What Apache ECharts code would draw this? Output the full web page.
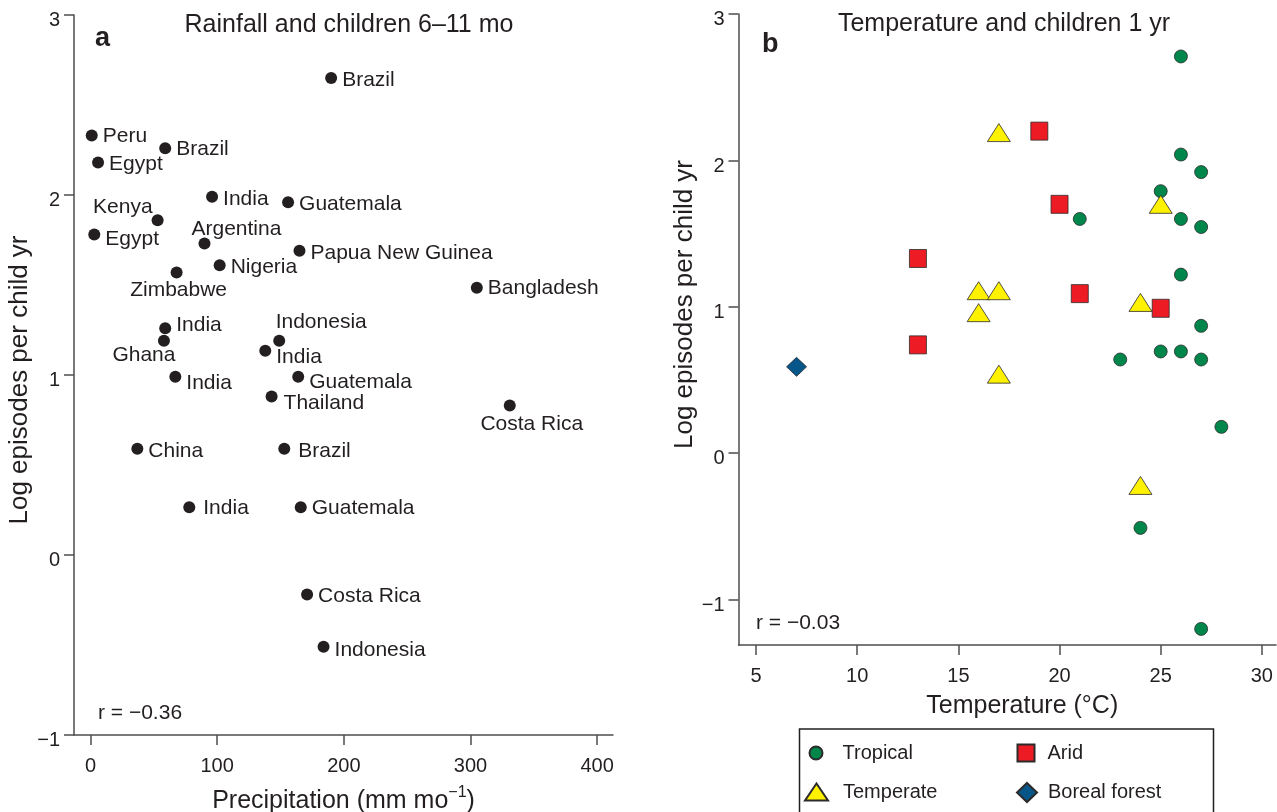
<!DOCTYPE html>
<html><head><meta charset="utf-8">
<script src="https://cdn.jsdelivr.net/npm/echarts@6/dist/echarts.min.js"></script>
<style>html,body{margin:0;padding:0;background:#fff}#c{width:1277px;height:812px}</style>
</head><body><div id="c"></div>
<script>
// ---------- Panel a: rainfall ----------
const rainCountries = ['Brazil','Peru','Brazil','Egypt','India','Guatemala','Kenya','Egypt','Argentina','Papua New Guinea','Nigeria','Zimbabwe','Bangladesh','India','Ghana','Indonesia','India','India','Guatemala','Thailand','Costa Rica','China','Brazil','India','Guatemala','Costa Rica','Indonesia'];
const rainPrecip = [190,1,59,6,96,156,53,3,90,165,102,68,305,59,58,149,138,67,164,143,331,37,153,78,166,171,184];
const rainEpisodes = [2.65,2.33,2.26,2.18,1.99,1.96,1.86,1.78,1.73,1.69,1.61,1.57,1.485,1.26,1.19,1.19,1.135,0.99,0.99,0.88,0.83,0.59,0.59,0.265,0.265,-0.22,-0.51];
const rainTicksX = [0,100,200,300,400];
const rainTicksY = [-1,0,1,2,3];

// ---------- Panel b: temperature ----------
const tropicalTemp = [26,26,27,25,21,26,27,26,27,25,26,23,27,28,24,27];
const tropicalEp = [2.71,2.04,1.92,1.79,1.60,1.60,1.545,1.22,0.87,0.695,0.695,0.64,0.64,0.18,-0.51,-1.20];
const temperateTemp = [17,25,16,17,16,24,17,24];
const temperateEp = [2.19,1.70,1.11,1.11,0.96,1.03,0.54,-0.22];
const aridTemp = [19,20,13,21,25,13];
const aridEp = [2.20,1.70,1.33,1.09,0.99,0.74];
const borealTemp = [7];
const borealEp = [0.59];
const tempTicksX = [5,10,15,20,25,30];
const tempTicksY = [-1,0,1,2,3];

// ---------- label placement (style only) ----------
const labelPlacement = {
  0:['right',5,0,2], 1:['right',5,0,1], 2:['right',5,0,1], 3:['right',5,0,2], 4:['right',5,0,2],
  5:['right',5,0,2], 6:['left',0,1,-13], 7:['right',5,0,5], 8:['right',5,-24,-14], 9:['right',5,0,2],
  10:['right',5,0,2], 11:['bottom',1,2,0], 12:['right',5,0,1], 13:['right',5,0,-3], 14:['bottom',-2,-20,0],
  15:['top',2,42,0], 16:['right',5,0,7], 17:['right',5,0,6], 18:['right',5,0,5], 19:['right',5,1,7],
  20:['bottom',2,22,0], 21:['right',5,0,2], 22:['right',5,3,2], 23:['right',5,3,1], 24:['right',5,0,1],
  25:['right',5,0,2], 26:['right',5,0,3]
};

const TXT = '#231f20';
const AX = '#4d4d4f';
const FONT = '"Liberation Sans", Arial, Helvetica, sans-serif';
const minus = v => String(v).replace('-', '\u2212');

const rainData = rainPrecip.map((x, i) => {
  const p = labelPlacement[i];
  return {
    name: rainCountries[i],
    value: [x, rainEpisodes[i]],
    label: { position: p[0], distance: p[1], offset: [p[2], p[3]] }
  };
});
const pairs = (xs, ys) => xs.map((x, i) => [x, ys[i]]);

function axisCommon(ticks, tickLen, labelOpts) {
  return {
    type: 'value',
    splitLine: { show: false },
    axisLine: { show: true, onZero: false, lineStyle: { color: AX, width: 1.5 } },
    axisTick: { show: true, customValues: ticks, length: tickLen, lineStyle: { color: AX, width: 1.5 } },
    axisLabel: Object.assign({ customValues: ticks, fontSize: 20, color: TXT, fontFamily: FONT, formatter: minus }, labelOpts),
    nameLocation: 'middle'
  };
}
// y tick labels sit a little below their ticks in the reference
const yLabelOpts = {
  margin: 14,
  formatter: v => '{s| }\n{t|' + minus(v) + '}',
  rich: {
    s: { fontSize: 8, lineHeight: 11.5 },
    t: { fontSize: 20, lineHeight: 20, color: TXT, fontFamily: FONT }
  }
};

const borderStyle = { borderColor: '#2b2b2b', borderWidth: 0.8, opacity: 1 };

const option = {
  animation: false,
  backgroundColor: '#fff',
  textStyle: { fontFamily: FONT },
  grid: [
    { left: 74, right: 664, top: 15, bottom: 77, outerBoundsMode: 'none', containLabel: false },
    { left: 738.5, right: 1, top: 14, bottom: 167, outerBoundsMode: 'none', containLabel: false }
  ],
  xAxis: [
    Object.assign(axisCommon(rainTicksX, 10, { margin: 21 }), {
      gridIndex: 0, min: -13, max: 412.5,
      name: 'Precipitation (mm mo{sup|\u22121})', nameGap: 50,
      nameTextStyle: { fontSize: 25, color: TXT, fontFamily: FONT,
        rich: { sup: { fontSize: 16, verticalAlign: 'top', padding: [0, 0, 16, 0], color: TXT, fontFamily: FONT } } }
    }),
    Object.assign(axisCommon(tempTicksX, 10, { margin: 21 }), {
      gridIndex: 1, min: 4.13, max: 30.7,
      name: 'Temperature (\u00b0C)', nameGap: 49,
      nameTextStyle: { fontSize: 25, color: TXT, fontFamily: FONT, padding: [0, 0, 0, 30] }
    })
  ],
  yAxis: [
    Object.assign(axisCommon(rainTicksY, 10, yLabelOpts), {
      gridIndex: 0, min: -1, max: 3,
      name: 'Log episodes per child yr', nameGap: 40,
      nameTextStyle: { fontSize: 26, color: TXT, fontFamily: FONT, padding: [0, 10, 0, 0] }
    }),
    Object.assign(axisCommon(tempTicksY, 10, yLabelOpts), {
      gridIndex: 1, min: -1.31, max: 3,
      name: 'Log episodes per child yr', nameGap: 40,
      nameTextStyle: { fontSize: 26, color: TXT, fontFamily: FONT, padding: [0, 0, 0, 50] }
    })
  ],
  legend: [
    { data: ['Tropical'], left: 808.5, top: 743, padding: 0, itemWidth: 13, itemHeight: 13, selectedMode: false,
      textStyle: { fontSize: 20, color: TXT, fontFamily: FONT, padding: [0, 0, 0, 15] } },
    { data: ['Arid'], left: 1016.5, top: 743, padding: 0, itemWidth: 17, itemHeight: 17, selectedMode: false,
      textStyle: { fontSize: 20, color: TXT, fontFamily: FONT, padding: [0, 0, 0, 8] } },
    { data: ['Temperate'], left: 804, top: 782, padding: 0, itemWidth: 23, itemHeight: 17, selectedMode: false,
      textStyle: { fontSize: 20, color: TXT, fontFamily: FONT, padding: [0, 0, 0, 10] } },
    { data: ['Boreal forest'], left: 1016, top: 782, padding: 0, itemWidth: 20, itemHeight: 19, selectedMode: false,
      textStyle: { fontSize: 20, color: TXT, fontFamily: FONT, padding: [0, 0, 0, 6] } }
  ],
  graphic: [
    { type: 'text', x: 349, y: 25, style: { text: 'Rainfall and children 6\u201311 mo', fill: TXT, font: '25px ' + FONT, align: 'center', verticalAlign: 'middle' } },
    { type: 'text', x: 95, y: 39, style: { text: 'a', fill: TXT, font: 'bold 27px ' + FONT, align: 'left', verticalAlign: 'middle' } },
    { type: 'text', x: 1004, y: 24, style: { text: 'Temperature and children 1 yr', fill: TXT, font: '25px ' + FONT, align: 'center', verticalAlign: 'middle' } },
    { type: 'text', x: 762, y: 45, style: { text: 'b', fill: TXT, font: 'bold 27px ' + FONT, align: 'left', verticalAlign: 'middle' } },
    { type: 'text', x: 98, y: 713, style: { text: 'r = \u22120.36', fill: TXT, font: '21px ' + FONT, align: 'left', verticalAlign: 'middle' } },
    { type: 'text', x: 756, y: 623, style: { text: 'r = \u22120.03', fill: TXT, font: '21px ' + FONT, align: 'left', verticalAlign: 'middle' } },
    { type: 'rect', shape: { x: 799.5, y: 729, width: 414, height: 120 }, style: { fill: 'none', stroke: TXT, lineWidth: 1.5 } }
  ],
  series: [
    {
      type: 'scatter', xAxisIndex: 0, yAxisIndex: 0, symbol: 'circle', symbolSize: 12,
      itemStyle: { color: '#231f20', opacity: 1 },
      label: { show: true, formatter: '{b}', fontSize: 21, color: TXT, fontFamily: FONT },
      data: rainData
    },
    { name: 'Tropical', type: 'scatter', xAxisIndex: 1, yAxisIndex: 1, symbol: 'circle', symbolSize: 13,
      itemStyle: Object.assign({ color: '#00854a' }, borderStyle), data: pairs(tropicalTemp, tropicalEp) },
    { name: 'Temperate', type: 'scatter', xAxisIndex: 1, yAxisIndex: 1, symbol: 'triangle', symbolSize: [23, 18],
      itemStyle: Object.assign({ color: '#fff200' }, borderStyle), data: pairs(temperateTemp, temperateEp) },
    { name: 'Arid', type: 'scatter', xAxisIndex: 1, yAxisIndex: 1, symbol: 'rect', symbolSize: [17, 18],
      itemStyle: Object.assign({ color: '#ed1c24' }, borderStyle), data: pairs(aridTemp, aridEp) },
    { name: 'Boreal forest', type: 'scatter', xAxisIndex: 1, yAxisIndex: 1, symbol: 'diamond', symbolSize: [20, 19],
      itemStyle: Object.assign({ color: '#07568a' }, borderStyle), data: pairs(borealTemp, borealEp) }
  ]
};

const chart = echarts.init(document.getElementById('c'), null, { renderer: 'canvas' });
chart.setOption(option);
</script>
</body></html>
